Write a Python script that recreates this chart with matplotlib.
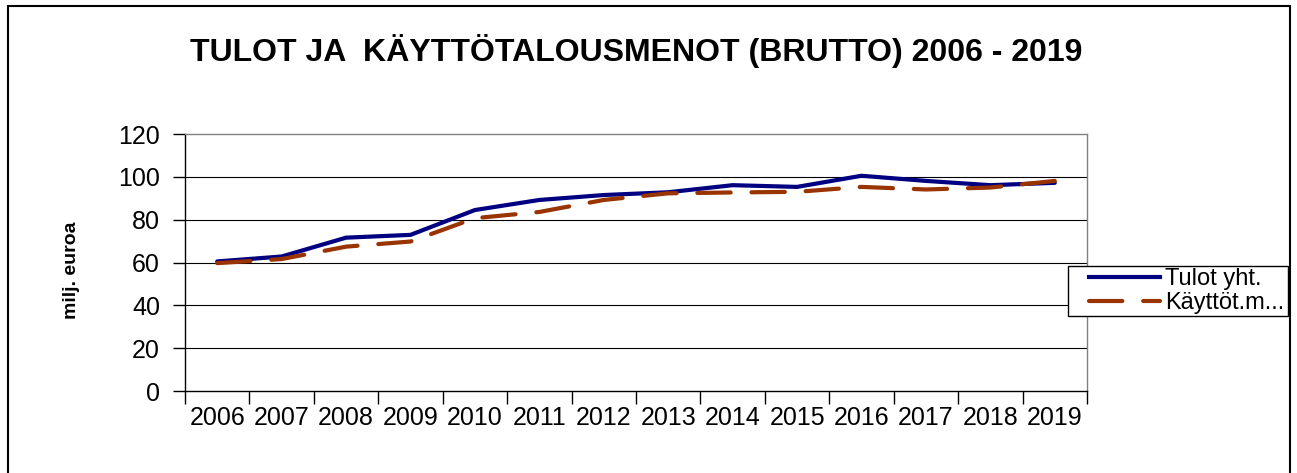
import matplotlib
matplotlib.use('Agg')
import matplotlib.pyplot as plt
from matplotlib.patches import Rectangle
from matplotlib.lines import Line2D
import numpy as np

plt.rcParams['font.family'] = ['Liberation Sans', 'DejaVu Sans']

years = ['2006', '2007', '2008', '2009', '2010', '2011', '2012',
         '2013', '2014', '2015', '2016', '2017', '2018', '2019']
tulot = [60.5, 62.8, 71.6, 72.9, 84.5, 89.2, 91.5, 92.8, 96.1, 95.3, 100.5, 98.1, 96.1, 97.2]
kaytto = [59.7, 61.6, 67.4, 69.8, 80.7, 83.6, 89.2, 92.3, 92.7, 93.0, 95.3, 94.1, 95.0, 98.1]
yticks = [0, 20, 40, 60, 80, 100, 120]

W, H = 1297, 473
fig = plt.figure(figsize=(W / 100, H / 100), dpi=100)
ax = fig.add_axes([185 / W, 1 - 391 / H, (1087 - 185) / W, (391 - 134) / H])

x = np.arange(len(years))
ax.plot(x, tulot, color='#000080', lw=3, solid_capstyle='round', zorder=3)
ax.plot(x, kaytto, color='#993300', lw=3, dashes=(8, 5), dash_capstyle='round', zorder=3)

ax.set_xlim(-0.5, len(years) - 0.5)
ax.set_ylim(0, 120)
ax.set_yticks(yticks)
ax.set_yticklabels([str(v) for v in yticks], fontsize=18)
ax.set_xticks(np.arange(len(years) + 1) - 0.5)
ax.set_xticklabels([])
ax.set_xticks(x, minor=True)
ax.set_xticklabels(years, minor=True, fontsize=18)
ax.tick_params(axis='x', which='major', length=9, width=1, direction='out')
ax.tick_params(axis='x', which='minor', length=0, pad=11)
ax.tick_params(axis='y', length=9, width=1, pad=9)

for v in yticks[1:-1]:
    ax.axhline(v, color='black', lw=0.8, zorder=1)

ax.spines['left'].set_color('black')
ax.spines['bottom'].set_color('black')
ax.spines['top'].set_color('#808080')
ax.spines['right'].set_color('#808080')
for s in ax.spines.values():
    s.set_linewidth(1)

# outer border
fig.patches.append(Rectangle((7.5 / W, -0.05), (1290 - 7.5) / W, 1.05 - 6.5 / H,
                             transform=fig.transFigure, fill=False,
                             edgecolor='black', lw=1.5, zorder=1))

fig.text(636 / W, 1 - 51 / H, 'TULOT JA  KÄYTTÖTALOUSMENOT (BRUTTO) 2006 - 2019',
         ha='center', va='center', fontsize=23, weight='bold')
fig.text(71 / W, 1 - 270 / H, 'milj. euroa', rotation=90, ha='center', va='center',
         fontsize=14, weight='bold')

# legend box
fig.patches.append(Rectangle((1068 / W, 1 - 316 / H), (1288 - 1068) / W, 50 / H,
                             transform=fig.transFigure, facecolor='white',
                             edgecolor='black', lw=1, zorder=4))
handles = [Line2D([], [], color='#000080', lw=3),
           Line2D([], [], color='#993300', lw=3, dashes=(8, 5), dash_capstyle='round')]
leg = fig.legend(handles, ['Tulot yht.', 'Käyttöt.m...'], loc='center left',
                 bbox_to_anchor=(1084 / W, 1 - 291 / H), frameon=False,
                 fontsize=17, handlelength=3.0, handletextpad=0.25,
                 labelspacing=0.1, borderpad=0.2, borderaxespad=0)
leg.set_zorder(6)

fig.savefig('out.png', dpi=100)
